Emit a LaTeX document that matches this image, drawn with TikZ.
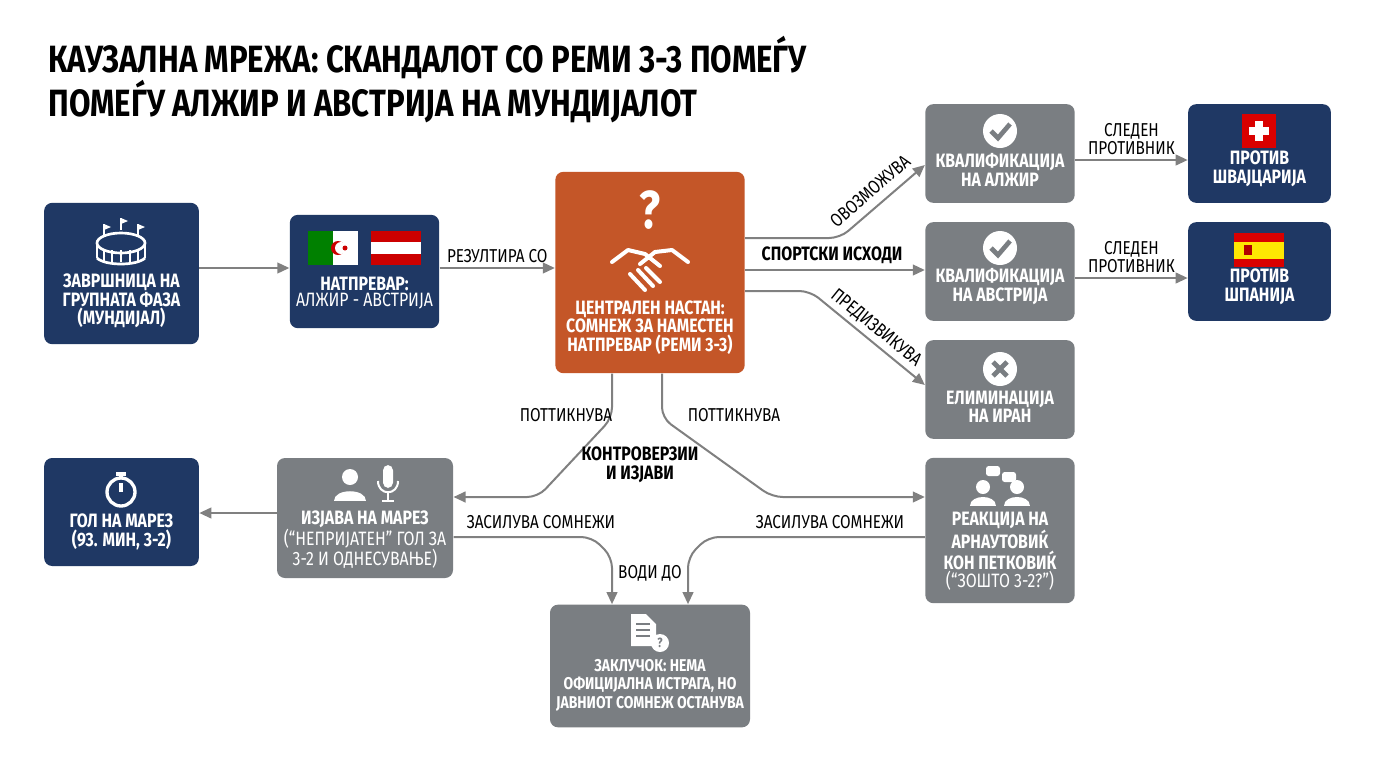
\documentclass[tikz,border=0pt]{standalone}
\usepackage{fontspec}
\setmainfont{Fira Sans}[FakeStretch=0.82]
\usetikzlibrary{positioning,arrows.meta}
\definecolor{navy}{RGB}{31,56,100}
\definecolor{boxgray}{RGB}{122,126,130}
\definecolor{orng}{RGB}{196,86,40}
\definecolor{linegray}{RGB}{128,128,128}
\newcommand{\bxf}{\fontsize{14.5}{14}\selectfont\bfseries}
\newcommand{\rgf}{\fontsize{14.5}{14}\selectfont}
\tikzset{every picture/.style={line width=0.75pt}}
\tikzset{
  box/.style={draw=none,rounded corners=6pt,inner sep=0pt},
  lbl/.style={text=white,font=\bxf,align=center,inner sep=0pt},
  elbl/.style={font=\fontsize{14}{14}\selectfont,align=center,inner sep=1pt},
  conn/.style={draw=linegray,line width=1.5pt,rounded corners=8pt,-{Triangle[length=9pt,width=8pt]}},
}
\begin{document}
\begin{tikzpicture}[x=0.75pt,y=0.75pt,yscale=-1,xscale=1]
\useasboundingbox (0,0) rectangle (1376,768);
\fill[white] (0,0) rectangle (1376,768);

% Title
\node[anchor=west,font=\fontsize{28.5}{31.5}\selectfont\bfseries,align=left,inner sep=0pt] (title) at (48,80)
  {КАУЗАЛНА МРЕЖА: СКАНДАЛОТ СО РЕМИ 3-3 ПОМЕЃУ\\ПОМЕЃУ АЛЖИР И АВСТРИЈА НА МУНДИЈАЛОТ};

% Boxes
\node[box,fill=navy,minimum width=116pt,minimum height=106pt] (stad) at (121.5,273.5) {};
\node[box,fill=navy,minimum width=112pt,minimum height=85pt] (match) at (364.5,271.5) {};
\node[box,fill=orng,minimum width=142pt,minimum height=151pt] (center) at (650,272.5) {};
\node[box,fill=boxgray,minimum width=112pt,minimum height=74pt] (qalg) at (1000,153.5) {};
\node[box,fill=boxgray,minimum width=112pt,minimum height=74pt] (qaut) at (1000,271.5) {};
\node[box,fill=boxgray,minimum width=112pt,minimum height=74pt] (iran) at (1000,389.5) {};
\node[box,fill=navy,minimum width=107pt,minimum height=74pt] (swiss) at (1259.5,153.5) {};
\node[box,fill=navy,minimum width=107pt,minimum height=74pt] (spain) at (1259.5,271.5) {};
\node[box,fill=navy,minimum width=116pt,minimum height=81pt] (goal) at (121.5,512) {};
\node[box,fill=boxgray,minimum width=132pt,minimum height=90pt] (stmt) at (365,518) {};
\node[box,fill=boxgray,minimum width=112pt,minimum height=109pt] (react) at (1000,530.5) {};
\node[box,fill=boxgray,minimum width=150pt,minimum height=92pt] (concl) at (650,666) {};

% Box texts
\node[lbl,anchor=south] (stadT) at ([yshift=-12]stad.south) {ЗАВРШНИЦА НА\\ГРУПНАТА ФАЗА\\(МУНДИЈАЛ)};
\node[anchor=south,align=center,inner sep=0pt,text=white] (matchT) at ([yshift=-14]match.south)
  {{\bxf НАТПРЕВАР:}\\{\rgf АЛЖИР - АВСТРИЈА}};
\node[lbl,anchor=south] (centerT) at ([yshift=-14]center.south) {ЦЕНТРАЛЕН НАСТАН:\\СОМНЕЖ ЗА НАМЕСТЕН\\НАТПРЕВАР (РЕМИ 3-3)};
\node[lbl,anchor=south] (qalgT) at ([yshift=-12]qalg.south) {КВАЛИФИКАЦИЈА\\НА АЛЖИР};
\node[lbl,anchor=south] (qautT) at ([yshift=-12]qaut.south) {КВАЛИФИКАЦИЈА\\НА АВСТРИЈА};
\node[lbl,anchor=south] (iranT) at ([yshift=-12]iran.south) {ЕЛИМИНАЦИЈА\\НА ИРАН};
\node[lbl,anchor=south] (swissT) at ([yshift=-12]swiss.south) {ПРОТИВ\\ШВАЈЦАРИЈА};
\node[lbl,anchor=south] (spainT) at ([yshift=-12]spain.south) {ПРОТИВ\\ШПАНИЈА};
\node[lbl,anchor=south] (goalT) at ([yshift=-12]goal.south) {ГОЛ НА МАРЕЗ\\(93. МИН, 3-2)};
\node[anchor=south,align=center,inner sep=0pt,text=white] (stmtT) at ([yshift=-7]stmt.south)
  {{\bxf ИЗЈАВА НА МАРЕЗ}\\{\rgf (“НЕПРИЈАТЕН” ГОЛ ЗА}\\{\rgf 3-2 И ОДНЕСУВАЊЕ)}};
\node[anchor=south,align=center,inner sep=0pt,text=white] (reactT) at ([yshift=-10]react.south)
  {{\bxf РЕАКЦИЈА НА}\\{\bxf АРНАУТОВИЌ}\\{\bxf КОН ПЕТКОВИЌ}\\{\rgf (“ЗОШТО 3-2?”)}};
\node[lbl,anchor=south,font=\fontsize{12.8}{14}\selectfont\bfseries] (conclT) at ([yshift=-12]concl.south) {ЗАКЛУЧОК: НЕМА\\ОФИЦИЈАЛНА ИСТРАГА, НО\\ЈАВНИОТ СОМНЕЖ ОСТАНУВА};

% Icons
% stadium
\draw[white,line width=2pt] (121,243) ellipse (24 and 10);
\draw[white,line width=2pt] (97,243) -- (97,258) (145,243) -- (145,258);
\draw[white,line width=2pt] (97,258) .. controls (105,266) and (137,266) .. (145,258);
\foreach \i in {104,112,121,130,138} \draw[white,line width=1.5pt] (\i,250) -- (\i,262);
\foreach \i/\j in {104/224,121/218,138/224} {
  \draw[white,line width=1pt] (\i,\j) -- (\i,\j+12);
  \fill[white] (\i,\j) -- (\i+7,\j+3) -- (\i,\j+6) -- cycle;
}
% flags
\fill[white] (308,231) rectangle (358,265);
\fill[green!50!black] (308,231) rectangle (333,265);
\fill[red!80!black] (338,248) circle (7);
\fill[white] (341,248) circle (6);
\fill[red!80!black] (345,248) circle (2.5);
\fill[red!80!black] (371,231) rectangle (421,242.3);
\fill[white] (371,242.3) rectangle (421,253.7);
\fill[red!80!black] (371,253.7) rectangle (421,265);
% question mark and handshake
\node[text=white,font=\fontsize{40}{40}\selectfont\bfseries,inner sep=0pt] (qmark) at (650,210) {?};
\draw[white,line width=3pt,line cap=round,line join=round] (612,262) -- (628,250) -- (645,254) -- (660,266) (688,262) -- (672,250) -- (655,252) -- (640,264);
\draw[white,line width=3pt,line cap=round] (630,274) -- (645,290) (638,270) -- (653,286) (646,268) -- (660,282);
% checks and cross
\fill[white] (1000,131) circle (17);
\draw[boxgray,line width=3.5pt] (991,131) -- (998,138) -- (1010,124);
\fill[white] (1000,248) circle (17);
\draw[boxgray,line width=3.5pt] (991,248) -- (998,255) -- (1010,241);
\fill[white] (1000,369) circle (17);
\draw[boxgray,line width=3.5pt] (993,362) -- (1007,376) (1007,362) -- (993,376);
% swiss and spain flags
\fill[red!85!black] (1242,114) rectangle (1276,148);
\fill[white] (1255,121) rectangle (1263,141);
\fill[white] (1249,127) rectangle (1269,135);
\fill[red!85!black] (1234,233) rectangle (1284,267);
\fill[yellow!90!orange] (1234,241.5) rectangle (1284,258.5);
\fill[red!70!black] (1244,245) rectangle (1252,255);
% stopwatch
\draw[white,line width=2.5pt] (121,492) circle (14);
\draw[white,line width=2.5pt] (121,492) -- (121,483) (116,474) -- (126,474) (121,474) -- (121,478);
% person and mic
\fill[white] (350,477) circle (8);
\fill[white] (334,501) .. controls (334,488) and (366,488) .. (366,501) -- cycle;
\fill[white,rounded corners=4pt] (383,465) rectangle (393,488);
\draw[white,line width=1.5pt] (378,481) .. controls (378,496) and (398,496) .. (398,481);
\draw[white,line width=1.5pt] (388,493) -- (388,501) (382,501) -- (394,501);
% people talking
\fill[white] (983,487) circle (7);
\fill[white] (970,506) .. controls (970,494) and (996,494) .. (996,506) -- cycle;
\fill[white] (1017,487) circle (7);
\fill[white] (1004,506) .. controls (1004,494) and (1030,494) .. (1030,506) -- cycle;
\fill[white,rounded corners=2pt] (986,466) rectangle (1000,476);
\fill[white,rounded corners=2pt] (1002,472) rectangle (1016,482);
% document
\fill[white] (631,614) -- (646,614) -- (656,624) -- (656,646) -- (631,646) -- cycle;
\foreach \i in {624,630,636} \draw[boxgray,line width=1.5pt] (636,\i) -- (650,\i);
\fill[white] (660,643) circle (9);
\node[text=boxgray,font=\fontsize{10}{10}\selectfont\bfseries,inner sep=0pt] (docq) at (660,643) {?};

% Connectors
\draw[conn] (stad.east |- 0,268) -- (match.west |- 0,268);
\draw[conn] (match.east |- 0,268) -- node[elbl,above=2pt] (resL) {РЕЗУЛТИРА СО} (center.west |- 0,268);
\draw[conn] (center.east |- 0,238) -- (840,238) -- (qalg.west |- 0,165);
\node[elbl,rotate=41] (enL) at (870,191) {ОВОЗМОЖУВА};
\draw[conn] (center.east |- 0,270) -- (qaut.west |- 0,270);
\node[font=\bxf,inner sep=0pt] (sportL) at (832,255) {СПОРТСКИ ИСХОДИ};
\draw[conn] (center.east |- 0,291) -- (810,291) -- (iran.west |- 0,385);
\node[elbl,rotate=-39] (prL) at (876,328) {ПРЕДИЗВИКУВА};
\draw[conn] (qalg.east |- 0,160) -- node[elbl,above=2pt] (nextA) {СЛЕДЕН\\ПРОТИВНИК} (swiss.west |- 0,160);
\draw[conn] (qaut.east |- 0,278) -- node[elbl,above=2pt] (nextB) {СЛЕДЕН\\ПРОТИВНИК} (spain.west |- 0,278);
\draw[conn] (center.south -| 612,0) -- (612,418) -- (538,497) -- (stmt.east |- 0,497);
\node[elbl] (pushL) at (566,415) {ПОТТИКНУВА};
\draw[conn] (center.south -| 662,0) -- (662,418) -- (772,497) -- (react.west |- 0,497);
\node[elbl] (pushR) at (734,415) {ПОТТИКНУВА};
\node[font=\bxf,align=center,inner sep=0pt] (contrL) at (640,465) {КОНТРОВЕРЗИИ\\И ИЗЈАВИ};
\draw[conn] (stmt.west |- 0,513) -- (goal.east |- 0,513);
\draw[conn] (stmt.east |- 0,537) -- (592,537) -- (612,557) -- (concl.north -| 612,0);
\node[elbl] (strL) at (541,522) {ЗАСИЛУВА СОМНЕЖИ};
\draw[conn] (react.west |- 0,537) -- (708,537) -- (688,557) -- (concl.north -| 688,0);
\node[elbl] (strR) at (830,522) {ЗАСИЛУВА СОМНЕЖИ};
\node[elbl] (leadL) at (650,573) {ВОДИ ДО};
\end{tikzpicture}
\end{document}
